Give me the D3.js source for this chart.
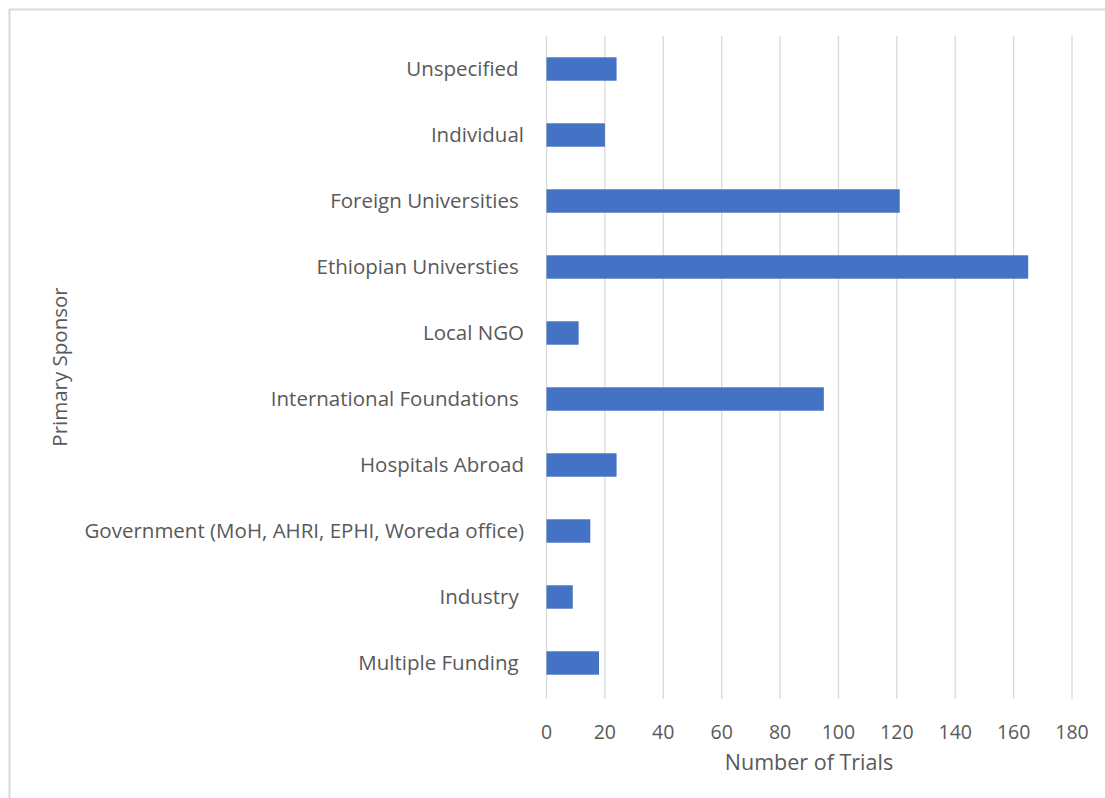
<!DOCTYPE html>
<html><head><meta charset="utf-8">
<script src="https://cdn.jsdelivr.net/npm/d3@7"></script>
<style>body{margin:0;background:#fff;}svg{display:block;}</style>
</head><body>
<script>
const categories = ["Unspecified ", "Individual", "Foreign Universities ", "Ethiopian Universties ", "Local NGO", "International Foundations ", "Hospitals Abroad", "Government (MoH, AHRI, EPHI, Woreda office)", "Industry ", "Multiple Funding "];
const values = [24, 20, 121, 165, 11, 95, 24, 15, 9, 18];
const xTicks = [0, 20, 40, 60, 80, 100, 120, 140, 160, 180];

(function () {
const W = 1105, H = 798;
const svg = d3.select("body").append("svg").attr("width", W).attr("height", H);
svg.append("rect").attr("x", 9.5).attr("y", 9.5).attr("width", W + 10).attr("height", H + 10)
  .attr("fill", "#fff").attr("stroke", "#d9d9d9").attr("stroke-width", 2);

const pLeft = 546.5, pRight = 1072, pTop = 36, pBottom = 696;
const x = d3.scaleLinear().domain([0, 180]).range([pLeft, pRight]);
const y = d3.scaleBand().domain(categories).range([pTop, pBottom]).paddingInner(0.645).paddingOuter(0.3225);

const font = "'Open Sans', 'Segoe UI', sans-serif";
const txt = "#595959";

svg.append("g").selectAll("line").data(xTicks).join("line")
  .attr("x1", d => x(d)).attr("x2", d => x(d)).attr("y1", pTop).attr("y2", pBottom + 3)
  .attr("stroke", "#d9d9d9").attr("stroke-width", 1.3);

svg.append("g").selectAll("rect").data(categories).join("rect")
  .attr("x", x(0)).attr("y", d => y(d)).attr("height", y.bandwidth())
  .attr("width", (d, i) => x(values[i]) - x(0)).attr("fill", "#4472C4");

svg.append("g").selectAll("text").data(xTicks).join("text")
  .attr("x", d => x(d)).attr("y", 732).attr("dy", "0.35em").attr("text-anchor", "middle")
  .attr("font-family", font).attr("font-size", 19.5).attr("fill", txt).text(d => d);

svg.append("g").selectAll("text").data(categories).join("text")
  .attr("x", 524).attr("y", d => y(d) + y.bandwidth() / 2).attr("dy", "0.35em").attr("text-anchor", "end")
  .attr("font-family", font).attr("font-size", 20.5).attr("fill", txt)
  .style("white-space", "pre").attr("xml:space", "preserve").text(d => d);

svg.append("text").attr("x", 809).attr("y", 762).attr("dy", "0.35em").attr("text-anchor", "middle")
  .attr("font-family", font).attr("font-size", 21.5).attr("fill", txt).text("Number of Trials");

svg.append("text").attr("transform", "translate(60,367) rotate(-90)").attr("dy", "0.35em").attr("text-anchor", "middle")
  .attr("font-family", font).attr("font-size", 20.5).attr("fill", txt).text("Primary Sponsor");
})();
</script>
</body></html>
